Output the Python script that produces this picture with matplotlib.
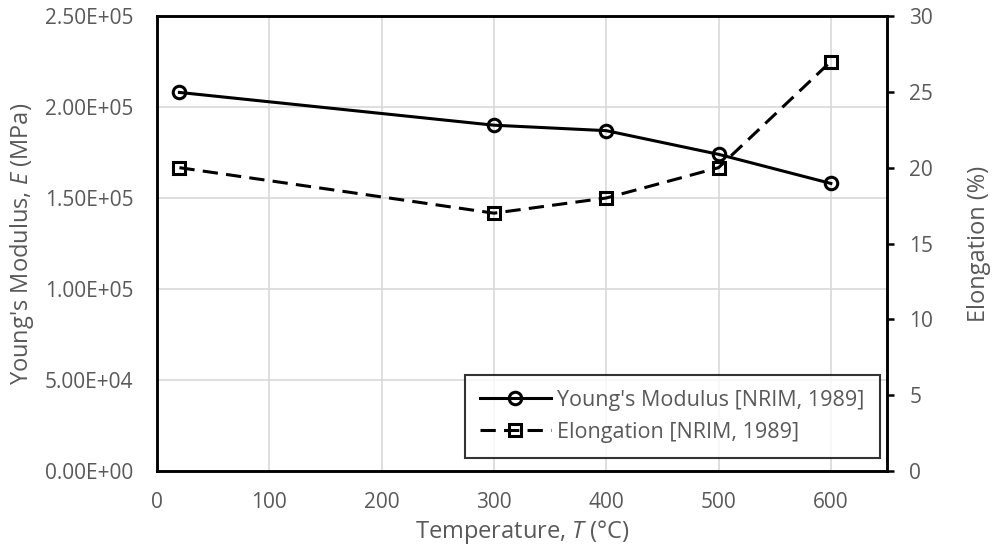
import matplotlib
matplotlib.use("Agg")
import matplotlib.pyplot as plt
from matplotlib.ticker import FuncFormatter

plt.rcParams['font.family'] = ['Open Sans', 'DejaVu Sans']
plt.rcParams['mathtext.fontset'] = 'custom'
plt.rcParams['mathtext.it'] = 'Open Sans:italic'

temperature = [20, 300, 400, 500, 600]
youngs_modulus = [2.08e5, 1.90e5, 1.87e5, 1.74e5, 1.58e5]
elongation = [20, 17, 18, 20, 27]

gray = '#595959'
L, R, T, B = 157, 887, 16, 471
fig = plt.figure(figsize=(9.95, 5.59), dpi=100)
ax = fig.add_axes([L/995, 1-B/559, (R-L)/995, (B-T)/559])
ax2 = ax.twinx()

l1, = ax.plot(temperature, youngs_modulus, color='black', lw=2.2, marker='o', ms=9,
              mfc='none', mec='black', mew=2.2, label="Young's Modulus [NRIM, 1989]", zorder=3)
l2, = ax2.plot(temperature, elongation, color='black', lw=2.2, ls=(0, (5, 2.7)), marker='s', ms=8.5,
               mfc='none', mec='black', mew=2.2, label="Elongation [NRIM, 1989]", zorder=3)

ax.set_xlim(0, 650)
ax.set_ylim(0, 2.5e5)
ax2.set_ylim(0, 30)
ax.set_xticks(range(0, 601, 100))
ax.set_yticks([0, 5e4, 1e5, 1.5e5, 2e5, 2.5e5])
ax2.set_yticks(range(0, 31, 5))
ax.yaxis.set_major_formatter(FuncFormatter(lambda v, p: f"{v:.2E}"))

ax.grid(True, color='#d9d9d9', lw=1.2)
ax.set_axisbelow(True)
for a in (ax, ax2):
    for s in a.spines.values():
        s.set_color('black')
        s.set_linewidth(1.8)
ax.tick_params(axis='x', length=0, labelsize=15, labelcolor=gray, pad=15)
ax.tick_params(axis='y', length=0, labelsize=15, labelcolor=gray, pad=17)
ax2.tick_params(axis='y', length=5, width=1.8, direction='out', labelsize=15, labelcolor=gray, pad=11)

ax.set_xlabel('Temperature, $\\mathit{T}$ (°C)', fontsize=17, color=gray, labelpad=4)
ax.set_ylabel("Young's Modulus, $\\mathit{E}$ (MPa)", fontsize=17, color=gray, labelpad=6)
ax2.set_ylabel('Elongation (%)', fontsize=17, color=gray, labelpad=24)

leg = ax2.legend(handles=[l1, l2], loc='lower right', bbox_to_anchor=(0.990, 0.029),
                 borderaxespad=0, fontsize=15.5, labelcolor=gray, frameon=True, fancybox=False,
                 edgecolor='black', handlelength=3.3, borderpad=0.7, labelspacing=0.5,
                 handletextpad=0.3)
leg.get_frame().set_linewidth(1.5)

fig.savefig('out.png', dpi=100)
